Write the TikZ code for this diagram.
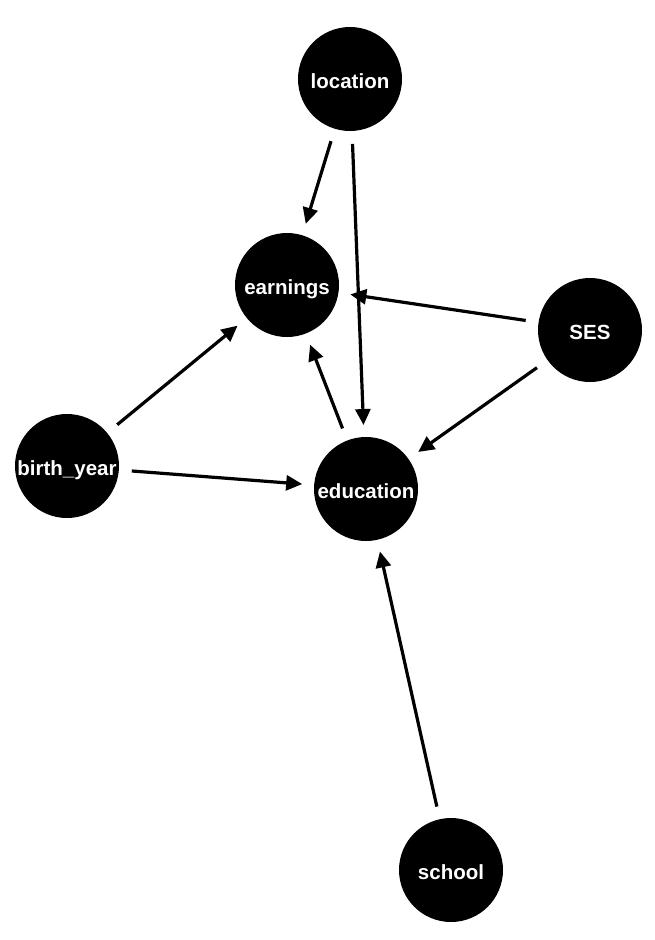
\documentclass[tikz,border=0pt]{standalone}
\usepackage{fontspec}
\setmainfont{Liberation Sans}
\usetikzlibrary{arrows.meta}

\tikzset{
    var/.style={circle, fill=black, minimum size=104pt, inner sep=0pt, outer sep=0pt,
        text=white, text height=18pt, text depth=0pt,
        font=\bfseries\fontsize{20.5}{24}\selectfont},
    link/.style={line width=3.2pt, -{Triangle[length=16pt,width=15pt]},
        shorten <=13pt, shorten >=12pt}
}

\begin{document}
\begin{tikzpicture}[x=1pt, y=-1pt]
    \useasboundingbox (0,0) rectangle (654,940);

    % Variables
    \node[var] (location) at (350,79) {location};
    \node[var] (earnings) at (287,285) {earnings};
    \node[var] (SES) at (590,330) {SES};
    \node[var] (birthyear) at (67,466) {birth\_year};
    \node[var] (education) at (366,489) {education};
    \node[var] (school) at (451,870) {school};

    % Causal arrows
    \foreach \from/\to in {location/earnings, location/education, SES/earnings,
        SES/education, birthyear/earnings, birthyear/education,
        education/earnings, school/education} {
        \draw[link] (\from) -- (\to);
    }
\end{tikzpicture}
\end{document}
